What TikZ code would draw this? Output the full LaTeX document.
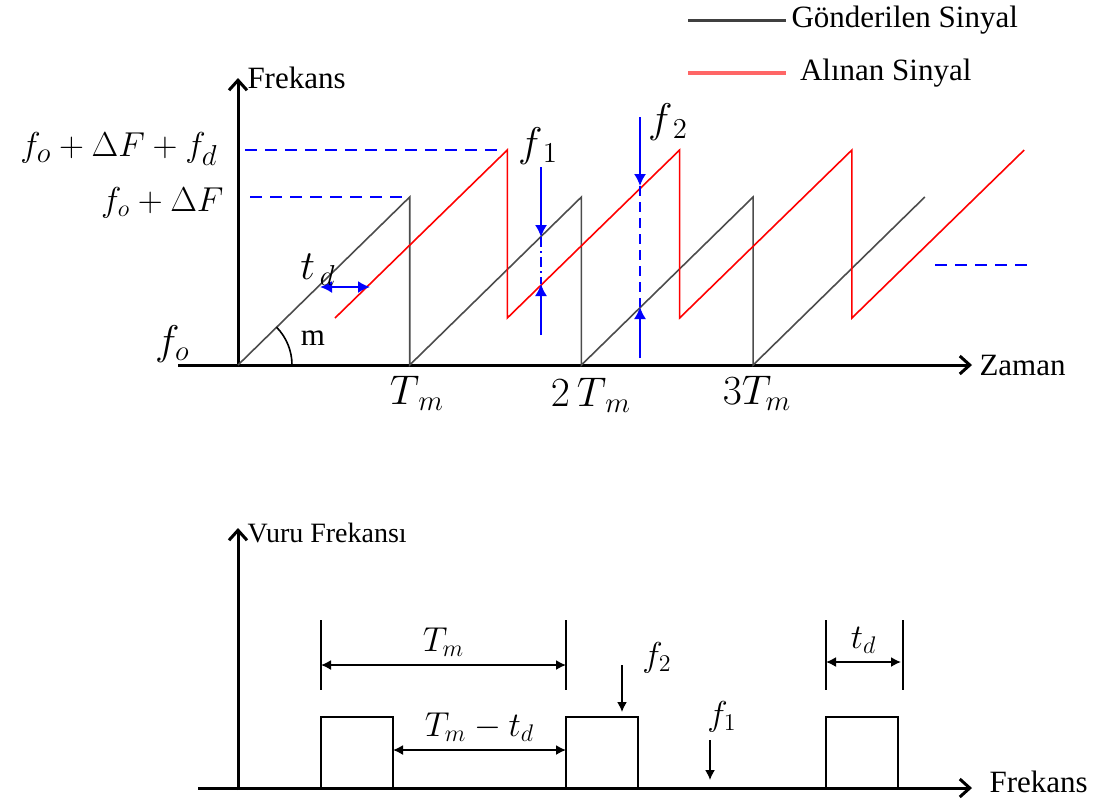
\documentclass[tikz,border=0pt]{standalone}
\usepackage{fontspec}
\setmainfont{Liberation Serif}
\usetikzlibrary{arrows.meta}
\begin{document}
\begin{tikzpicture}[x=0.5pt, y=-0.5pt,
        font=\fontsize{15.5}{18}\selectfont,
        axis/.style={line width=1.5pt, -{Straight Barb[length=5pt,width=9pt,line width=1.5pt]}},
        sent/.style={draw=black!70, line width=0.8pt},
        recv/.style={draw=red, line width=0.8pt},
        guide/.style={draw=blue, line width=1pt, dash pattern=on 6pt off 4pt},
        marker/.style={draw=blue, line width=0.8pt, -{Latex[length=6pt,width=6pt]}},
        span/.style={line width=0.8pt, {Latex[length=5pt,width=5pt]}-{Latex[length=5pt,width=5pt]}},
        pulse/.style={draw, line width=1pt},
        mlbl/.style={inner sep=1pt, font=\fontsize{20}{24}\selectfont},
        slbl/.style={inner sep=1pt, font=\fontsize{17}{20}\selectfont}]
        \useasboundingbox (0,0) rectangle (1106,800);

        % legend
        \draw[black!75, line width=1.5pt] (688,20) -- (786,20) node[right, inner sep=2pt, text=black] (leg1) {Gönderilen Sinyal};
        \draw[red!60, line width=2pt] (688,73) -- (786,73) node[right, inner sep=6pt, text=black] (leg2) {Alınan Sinyal};

        % upper panel: axes
        \draw[axis] (238,365) -- (238,78) node[anchor=south west, inner sep=4pt, yshift=-10pt] (fax) {Frekans};
        \draw[axis] (178,365) -- (972,365) node[right, inner sep=3pt] (tax) {Zaman};

        % level guides
        \draw[guide] (245,150) -- (502,150);
        \draw[guide] (250,197) -- (404,197);
        \draw[guide] (935,265) -- (1030,265);

        % sent and received chirps
        \draw[sent] (238,365) \foreach \k in {1,2,3} { -- ++(171.7,-168) -- ++(0,168) } -- ++(171.7,-168);
        \draw[recv] (335,318) \foreach \k in {1,2,3} { -- ++(172.3,-168) -- ++(0,168) } -- ++(172.3,-168);

        % slope mark
        \draw[black, line width=0.8pt] (292,365) arc[start angle=0, end angle=-44.3, radius=54];
        \node[inner sep=1pt] (slope) at (313,338) {m};

        % delay
        \draw[blue, line width=1pt, {Latex[length=6pt,width=6pt]}-{Latex[length=6pt,width=6pt]}] (320,287) -- (370,287);

        % beat markers
        \draw[marker] (541,167) -- (541,237);
        \draw[guide, dash pattern=on 5pt off 2pt on 1pt off 2pt, line width=0.8pt] (541,237) -- (541,284);
        \draw[marker] (541,335) -- (541,284);
        \draw[marker] (640,117) -- (640,186);
        \draw[guide, line width=0.8pt, dash pattern=on 5pt off 3pt] (640,186) -- (640,307);
        \draw[marker] (640,358) -- (640,307);

        % labels
        \node[mlbl, anchor=east, font=\fontsize{19}{22}\selectfont] (lvl3) at (220,149) {$f_o+\Delta F+f_d$};
        \node[mlbl, anchor=east, font=\fontsize{18}{22}\selectfont] (lvl2) at (226,203) {$f_o+\Delta F$};
        \node[mlbl, anchor=east] (lvl1) at (192,344) {$f_o$};
        \node[mlbl] (td) at (318,270) {$t_{\,d}$};
        \node[mlbl] (f1) at (538,146) {$f_{\,1}$};
        \node[mlbl] (f2) at (668,122) {$f_{\,2}$};
        \node[mlbl] (tm1) at (417,393) {$T_{\,m}$};
        \node[mlbl] (tm2) at (591,395) {$2\,T_{\,m}$};
        \node[mlbl] (tm3) at (757,393) {$3T_{m}$};

        % lower panel: beat spectrum
        \draw[axis] (238,790) -- (238,528) node[anchor=south west, inner sep=4pt, yshift=-12pt, font=\fontsize{14}{16}\selectfont] (vax) {Vuru Frekansı};
        \draw[axis] (198,788) -- (972,788) node[anchor=west, inner sep=2pt, xshift=6pt, yshift=3pt] (bax) {Frekans};
        \foreach \x in {321,566,826}
            \draw[pulse] (\x,788) -- (\x,717) -- (\x+72,717) -- (\x+72,788);
        \foreach \x in {321,566,826,903}
            \draw[line width=0.8pt] (\x,620) -- (\x,690);

        \draw[span] (321,665) -- (566,665) node[slbl, midway, above=3pt] (tmb) {$T_m$};
        \draw[span] (393,750) -- (566,750) node[slbl, midway, above=3pt] (tmtd) {$T_m-t_d$};
        \draw[span] (826,662) -- (901,662) node[slbl, midway, above=3pt] (tdb) {$t_d$};

        \draw[line width=0.8pt, -{Latex[length=5pt,width=5pt]}] (622,665) -- (622,712);
        \node[slbl] (f2b) at (657,658) {$f_2$};
        \draw[line width=0.8pt, -{Latex[length=5pt,width=5pt]}] (710,740) -- (710,780);
        \node[slbl] (f1b) at (722,717) {$f_1$};
    \end{tikzpicture}
\end{document}
